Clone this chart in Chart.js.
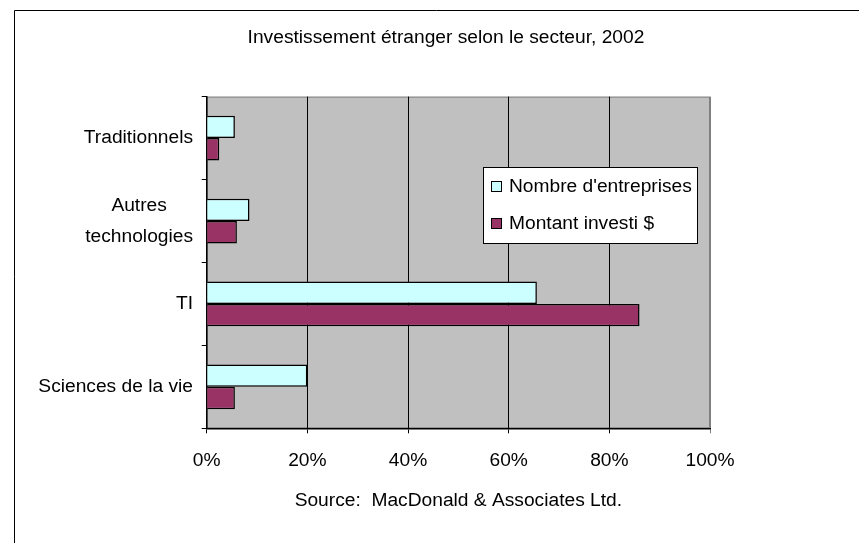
<!DOCTYPE html>
<html>
<head>
<meta charset="utf-8">
<script src="https://cdn.jsdelivr.net/npm/chart.js@4.4.0/dist/chart.umd.min.js"></script>
<style>
  html, body { margin: 0; padding: 0; background: #fff; overflow: hidden; }
  #wrap { width: 859px; height: 543px; }
</style>
</head>
<body>
<div id="wrap"><canvas id="c" width="859" height="543"></canvas></div>
<script>
// Données (en %)
const secteurs       = [['Traditionnels'], ['Autres', 'technologies'], ['TI'], ['Sciences de la vie']];
const nbEntreprises  = [5.6, 8.5, 65.6, 20.0];
const montantInvesti = [2.5, 6.0, 86.0, 5.6];
const pctTicks       = [0, 20, 40, 60, 80, 100];
const serieNoms      = ["Nombre d'entreprises", 'Montant investi $'];

const FONT = '"Liberation Sans", Arial, sans-serif';
const FS   = 19.2;

// Fond gris, cadre, étiquettes de catégories et légende flottante
const decor = {
  id: 'decor',
  beforeDraw(chart) {
    const { ctx, chartArea: a } = chart;
    ctx.save();
    ctx.fillStyle = '#fff';
    ctx.fillRect(0, 0, chart.width, chart.height);
    ctx.strokeStyle = '#000';
    ctx.lineWidth = 1;
    ctx.beginPath();
    ctx.moveTo(14.5, chart.height);
    ctx.lineTo(14.5, 10.5);
    ctx.lineTo(chart.width, 10.5);
    ctx.stroke();
    ctx.fillStyle = '#c0c0c0';
    ctx.fillRect(a.left, a.top, a.right - a.left, a.bottom - a.top);
    ctx.strokeStyle = '#808080';
    ctx.strokeRect(a.left + 0.5, a.top + 0.5, a.right - a.left - 1, a.bottom - a.top - 1);
    ctx.restore();
  },
  afterDraw(chart) {
    const { ctx } = chart;
    const y = chart.scales.y;
    ctx.save();
    ctx.font = `${FS}px ${FONT}`;
    ctx.fillStyle = '#000';
    ctx.textAlign = 'center';
    ctx.textBaseline = 'middle';

    // étiquettes de l'axe vertical (multi-lignes centrées)
    secteurs.forEach((lines, i) => {
      const yc = y.getPixelForValue(i);
      const w  = Math.max(...lines.map(l => ctx.measureText(l).width));
      const xc = 193 - w / 2;
      lines.forEach((l, j) => {
        ctx.fillText(l, xc, yc + (j - (lines.length - 1) / 2) * 31);
      });
    });

    // légende
    ctx.fillStyle = '#fff';
    ctx.fillRect(483.5, 167.5, 214, 76);
    ctx.strokeStyle = '#000';
    ctx.lineWidth = 1;
    ctx.strokeRect(483.5, 167.5, 214, 76);
    ctx.textAlign = 'left';
    chart.data.datasets.forEach((ds, i) => {
      const ty = 187 + i * 37;
      ctx.fillStyle = ds.backgroundColor;
      ctx.fillRect(491.5, ty - 5.5, 10, 10);
      ctx.strokeStyle = '#000';
      ctx.strokeRect(491.5, ty - 5.5, 10, 10);
      ctx.fillStyle = '#000';
      ctx.fillText(ds.label, 509, ty);
    });
    ctx.restore();
  }
};

new Chart(document.getElementById('c'), {
  type: 'bar',
  data: {
    labels: secteurs,
    datasets: [
      { label: serieNoms[0], data: nbEntreprises,  backgroundColor: '#ccffff', borderColor: '#000', borderWidth: 1.5 },
      { label: serieNoms[1], data: montantInvesti, backgroundColor: '#993366', borderColor: '#000', borderWidth: 1.5 }
    ]
  },
  options: {
    indexAxis: 'y',
    responsive: false,
    animation: false,
    devicePixelRatio: 1,
    layout: { padding: { left: 33, right: 0, top: 0, bottom: 0 } },
    datasets: { bar: { categoryPercentage: 0.54, barPercentage: 1 } },
    plugins: {
      legend: { display: false },
      tooltip: { enabled: false },
      title: {
        display: true,
        text: 'Investissement étranger selon le secteur, 2002',
        color: '#000',
        font: { family: FONT, size: FS, weight: 'normal' },
        padding: { top: 26, bottom: 47.6 }
      }
    },
    scales: {
      x: {
        min: 0, max: 100,
        afterBuildTicks: s => { s.ticks = pctTicks.map(v => ({ value: v })); },
        afterFit: s => { s.height = 114.7; },
        grid: {
          color: ctx => ctx.tick && ctx.tick.value === 100 ? '#808080' : '#000',
          tickLength: 5,
          lineWidth: 1
        },
        border: { color: '#000', width: 1.5 },
        ticks: {
          color: '#000',
          padding: 16,
          font: { family: FONT, size: FS },
          callback: v => v + '%'
        },
        title: {
          display: true,
          text: 'Source:  MacDonald & Associates Ltd.',
          color: '#000',
          font: { family: FONT, size: FS },
          padding: { top: 0, bottom: 30.5 }
        }
      },
      y: {
        afterFit: s => { s.width = 173.7; },
        grid: { offset: true, drawOnChartArea: false, tickLength: 5, color: '#000' },
        border: { color: '#000', width: 1.5 },
        ticks: { display: false }
      },
      yr: {
        type: 'linear',
        position: 'right',
        afterFit: s => { s.width = 149; },
        grid: { display: false },
        border: { display: false },
        ticks: { display: false }
      }
    }
  },
  plugins: [decor]
});
</script>
</body>
</html>
